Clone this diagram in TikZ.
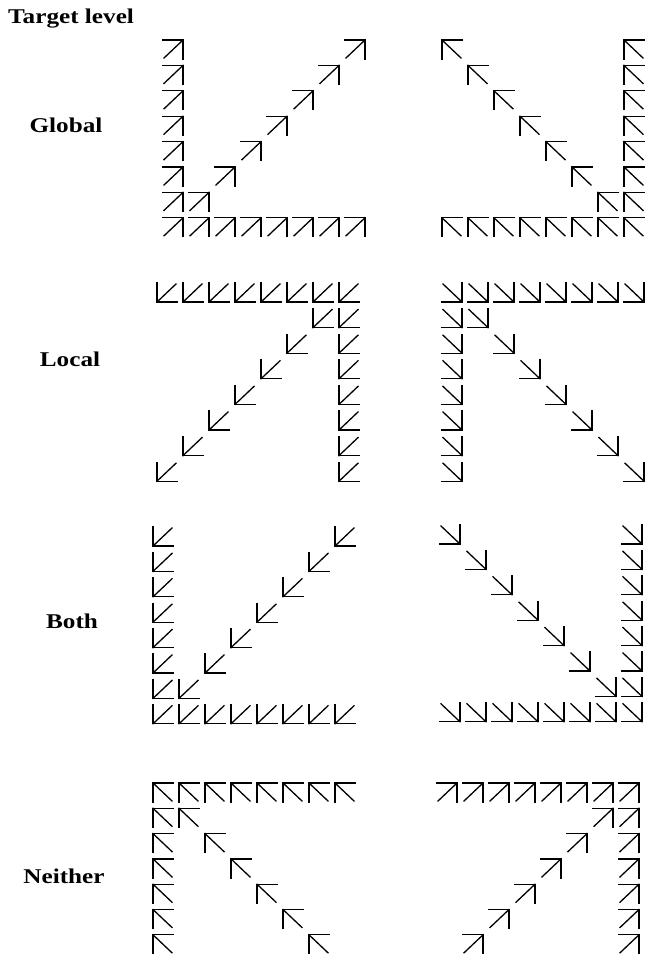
\documentclass[tikz,border=0pt]{standalone}
\usepackage{fontspec}
\newfontfamily\labfont[FakeStretch=1.2]{Liberation Serif}
\tikzset{
  g/.style={line width=1.3pt, black, line cap=rect},
  lab/.style={font=\labfont\bfseries\fontsize{21}{25}\selectfont, inner sep=0pt, anchor=base},
  pics/arrNE/.style={code={\draw[g] (0,0) -- (20,0) -- (20,19); \draw[g] (1,18) -- (20,0);}},
  pics/arrNW/.style={code={\draw[g] (20,0) -- (0,0) -- (0,19); \draw[g] (0,0) -- (19,18);}},
  pics/arrSE/.style={code={\draw[g] (20,0) -- (20,19) -- (0,19); \draw[g] (1,1) -- (20,19);}},
  pics/arrSW/.style={code={\draw[g] (0,0) -- (0,19) -- (20,19); \draw[g] (0,19) -- (19,1);}},
}
% type, x0, y0, dy, col, row
\newcommand\cell[6]{\pic at ({#2+(#5-1)*26},{#3+(#6-1)*#4}) {#1};}
\begin{document}
\begin{tikzpicture}[x=1pt,y=-1pt]
\useasboundingbox (0,0) rectangle (645,956);
\clip (0,0) rectangle (645,956);

% labels
\node[lab, anchor=base west] (title) at (8,23) {Target level};
\node[lab] (global) at (66,132) {Global};
\node[lab] (local) at (70,366) {Local};
\node[lab] (both) at (72,628) {Both};
\node[lab] (neither) at (64,883) {Neither};

% ---------- Global ----------
% left (NE)
\foreach \r in {1,...,8} {\cell{arrNE}{163}{40}{25.4}{1}{\r}}
\foreach \c in {2,...,8} {\cell{arrNE}{163}{40}{25.4}{\c}{8}}
\foreach \r in {1,...,7} {\cell{arrNE}{163}{40}{25.4}{9-\r}{\r}}
% right (NW)
\foreach \r in {1,...,8} {\cell{arrNW}{442}{40}{25.4}{8}{\r}}
\foreach \c in {1,...,7} {\cell{arrNW}{442}{40}{25.4}{\c}{8}}
\foreach \r in {1,...,7} {\cell{arrNW}{442}{40}{25.4}{\r}{\r}}

% ---------- Local ----------
% left (SW)
\foreach \c in {1,...,8} {\cell{arrSW}{157}{283}{25.6}{\c}{1}}
\foreach \r in {2,...,8} {\cell{arrSW}{157}{283}{25.6}{8}{\r}}
\foreach \r in {2,...,8} {\cell{arrSW}{157}{283}{25.6}{9-\r}{\r}}
% right (SE)
\foreach \c in {1,...,8} {\cell{arrSE}{442}{283}{25.6}{\c}{1}}
\foreach \r in {2,...,8} {\cell{arrSE}{442}{283}{25.6}{1}{\r}}
\foreach \r in {2,...,8} {\cell{arrSE}{442}{283}{25.6}{\r}{\r}}

% ---------- Both ----------
% left (SW)
\foreach \r in {1,...,8} {\cell{arrSW}{153}{527}{25.4}{1}{\r}}
\foreach \c in {2,...,8} {\cell{arrSW}{153}{527}{25.4}{\c}{8}}
\foreach \r in {1,...,7} {\cell{arrSW}{153}{527}{25.4}{9-\r}{\r}}
% right (SE)
\foreach \r in {1,...,8} {\cell{arrSE}{440}{525}{25.4}{8}{\r}}
\foreach \c in {1,...,7} {\cell{arrSE}{440}{525}{25.4}{\c}{8}}
\foreach \r in {1,...,7} {\cell{arrSE}{440}{525}{25.4}{\r}{\r}}

% ---------- Neither ----------
% left (NW)
\foreach \c in {1,...,8} {\cell{arrNW}{153}{783}{25.3}{\c}{1}}
\foreach \r in {2,...,7} {\cell{arrNW}{153}{783}{25.3}{1}{\r}}
\foreach \r in {2,...,7} {\cell{arrNW}{153}{783}{25.3}{\r}{\r}}
% right (NE)
\foreach \c in {1,...,8} {\cell{arrNE}{437}{783}{25.3}{\c}{1}}
\foreach \r in {2,...,7} {\cell{arrNE}{437}{783}{25.3}{8}{\r}}
\foreach \r in {2,...,7} {\cell{arrNE}{437}{783}{25.3}{9-\r}{\r}}
\end{tikzpicture}
\end{document}
